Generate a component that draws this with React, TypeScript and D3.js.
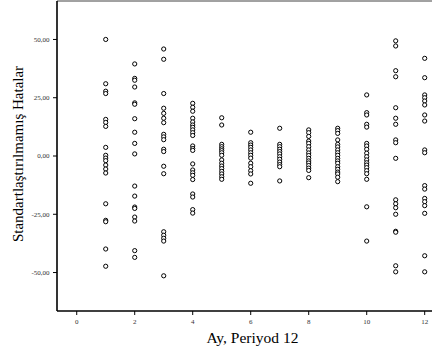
import React from "react";
import * as d3 from "d3";

const months = [1, 2, 3, 4, 5, 6, 7, 8, 9, 10, 11, 12];

const m1 = [50, 31, 27.8, 26.8, 15.7, 14.4, 12.7, 3.7, 0.3, -0.9, -2, -3.9, -5.6, -7.3, -20.5, -27.6, -28.2, -39.9, -47.3];
const m2 = [39.5, 33.3, 32.5, 29.6, 22.8, 22.2, 16, 10.2, 5.4, 0.9, -12.9, -17.2, -21.9, -22.5, -26.2, -27.9, -40.6, -43.5];
const m3 = [45.9, 41.5, 26.8, 20.5, 18.3, 16.2, 14.3, 9.3, 8.2, 7, 2.9, 1.9, -4.4, -7.6, -32.5, -34, -35.3, -36.5, -51.4];
const m4 = [22.6, 20.9, 19.2, 16.2, 14.6, 13.3, 12.3, 11.2, 10, 8.8, 4.3, 3.2, 2.4, -3.4, -6, -7.2, -8.3, -10.1, -16.3, -17.6, -23, -24.5];
const m5 = [16.4, 13.3, 5, 4, 3.1, 2.3, 1.4, 0.3, -1.7, -3.1, -4.3, -5.4, -6.6, -7.7, -8.9, -10];
const m6 = [10.2, 5.7, 4.7, 3.7, 2.6, 1.4, 0.3, -0.9, -3.1, -4.6, -6.3, -7.7, -11.7];
const m7 = [11.9, 5, 4, 2.9, 1.9, 0.9, -0.3, -1.4, -2.6, -3.7, -4.6, -10.7];
const m8 = [11.2, 10, 8.4, 6.4, 5.4, 4, 2.6, 1.3, 0.2, -1, -2.1, -3, -4.1, -5.2, -6.2, -9.3];
const m9 = [11.9, 10.9, 9.7, 6.9, 5, 3.9, 2.6, 1.4, 0.3, -1, -2.1, -3.1, -4.6, -5.7, -6.9, -7.7, -9.1, -11];
const m10 = [26.2, 18.6, 17.6, 13.6, 12.4, 5.4, 4.3, 2.9, 1.2, -0.3, -1.7, -2.9, -3.9, -5, -6.3, -7.6, -10, -21.8, -36.5];
const m11 = [49.4, 47.2, 36.6, 34, 20.7, 16.2, 13.6, 6.9, 5.7, -1, -18.8, -20.5, -22.2, -25, -32.3, -32.7, -47.1, -49.7];
const m12 = [41.9, 33.6, 26.2, 25, 23.6, 21.9, 17.6, 15, 2.6, 1.4, -12.7, -14.2, -18.2, -19.6, -21.3, -24.6, -42.8, -49.7];

const residuals = [m1, m2, m3, m4, m5, m6, m7, m8, m9, m10, m11, m12];

const xTicks = [0, 2, 4, 6, 8, 10, 12];
const yTicks = [50, 25, 0, -25, -50];
const yTickLabels = ["50,00", "25,00", "0,00", "-25,00", "-50,00"];

const xTitle = "Ay, Periyod 12";
const yTitle = "Standartlaştırılmamış Hatalar";

export default function App() {
  const W = 432, H = 353;
  const left = 57, top = 1, bottom = 311, right = 445;
  const x = d3.scaleLinear().domain([-0.68, 12.7]).range([left, right]);
  const y = d3.scaleLinear().domain([-66.5, 66.5]).range([bottom, top]);

  const points: { m: number; v: number }[] = [];
  months.forEach((m, i) => residuals[i].forEach((v) => points.push({ m, v })));

  return (
    <svg width={W} height={H} style={{ position: "absolute", left: 0, top: 0, background: "#fff" }} fontFamily="'Liberation Serif', 'Times New Roman', serif">
      <rect x={0} y={0} width={W} height={H} fill="#fff" />
      <line x1={left} x2={right} y1={top} y2={top} stroke="#444" strokeWidth={1} />
      <line x1={left} x2={left} y1={top} y2={bottom} stroke="#000" strokeWidth={1.6} />
      <line x1={left} x2={right} y1={bottom} y2={bottom} stroke="#000" strokeWidth={1.6} />
      {yTicks.map((t, i) => (
        <g key={"y" + t}>
          <line x1={left - 4} x2={left} y1={y(t)} y2={y(t)} stroke="#000" strokeWidth={1} />
          <text x={left - 7.5} y={y(t)} dy="0.33em" textAnchor="end" fontSize={7} fill="#333">
            {yTickLabels[i]}
          </text>
        </g>
      ))}
      {xTicks.map((t) => (
        <g key={"x" + t}>
          <line x1={x(t)} x2={x(t)} y1={bottom} y2={bottom + 4} stroke="#000" strokeWidth={1} />
          <text x={x(t)} y={322} dy="0.33em" textAnchor="middle" fontSize={7} fill="#333">
            {t}
          </text>
        </g>
      ))}
      {points.map((p, i) => (
        <circle key={i} cx={x(p.m)} cy={y(p.v)} r={2.1} fill="#fff" stroke="#000" strokeWidth={1} />
      ))}
      <text x={252.5} y={343} textAnchor="middle" fontSize={15.5} fill="#000">
        {xTitle}
      </text>
      <text transform={`translate(23,${154}) rotate(-90)`} textAnchor="middle" fontSize={15} fill="#000">
        {yTitle}
      </text>
    </svg>
  );
}
